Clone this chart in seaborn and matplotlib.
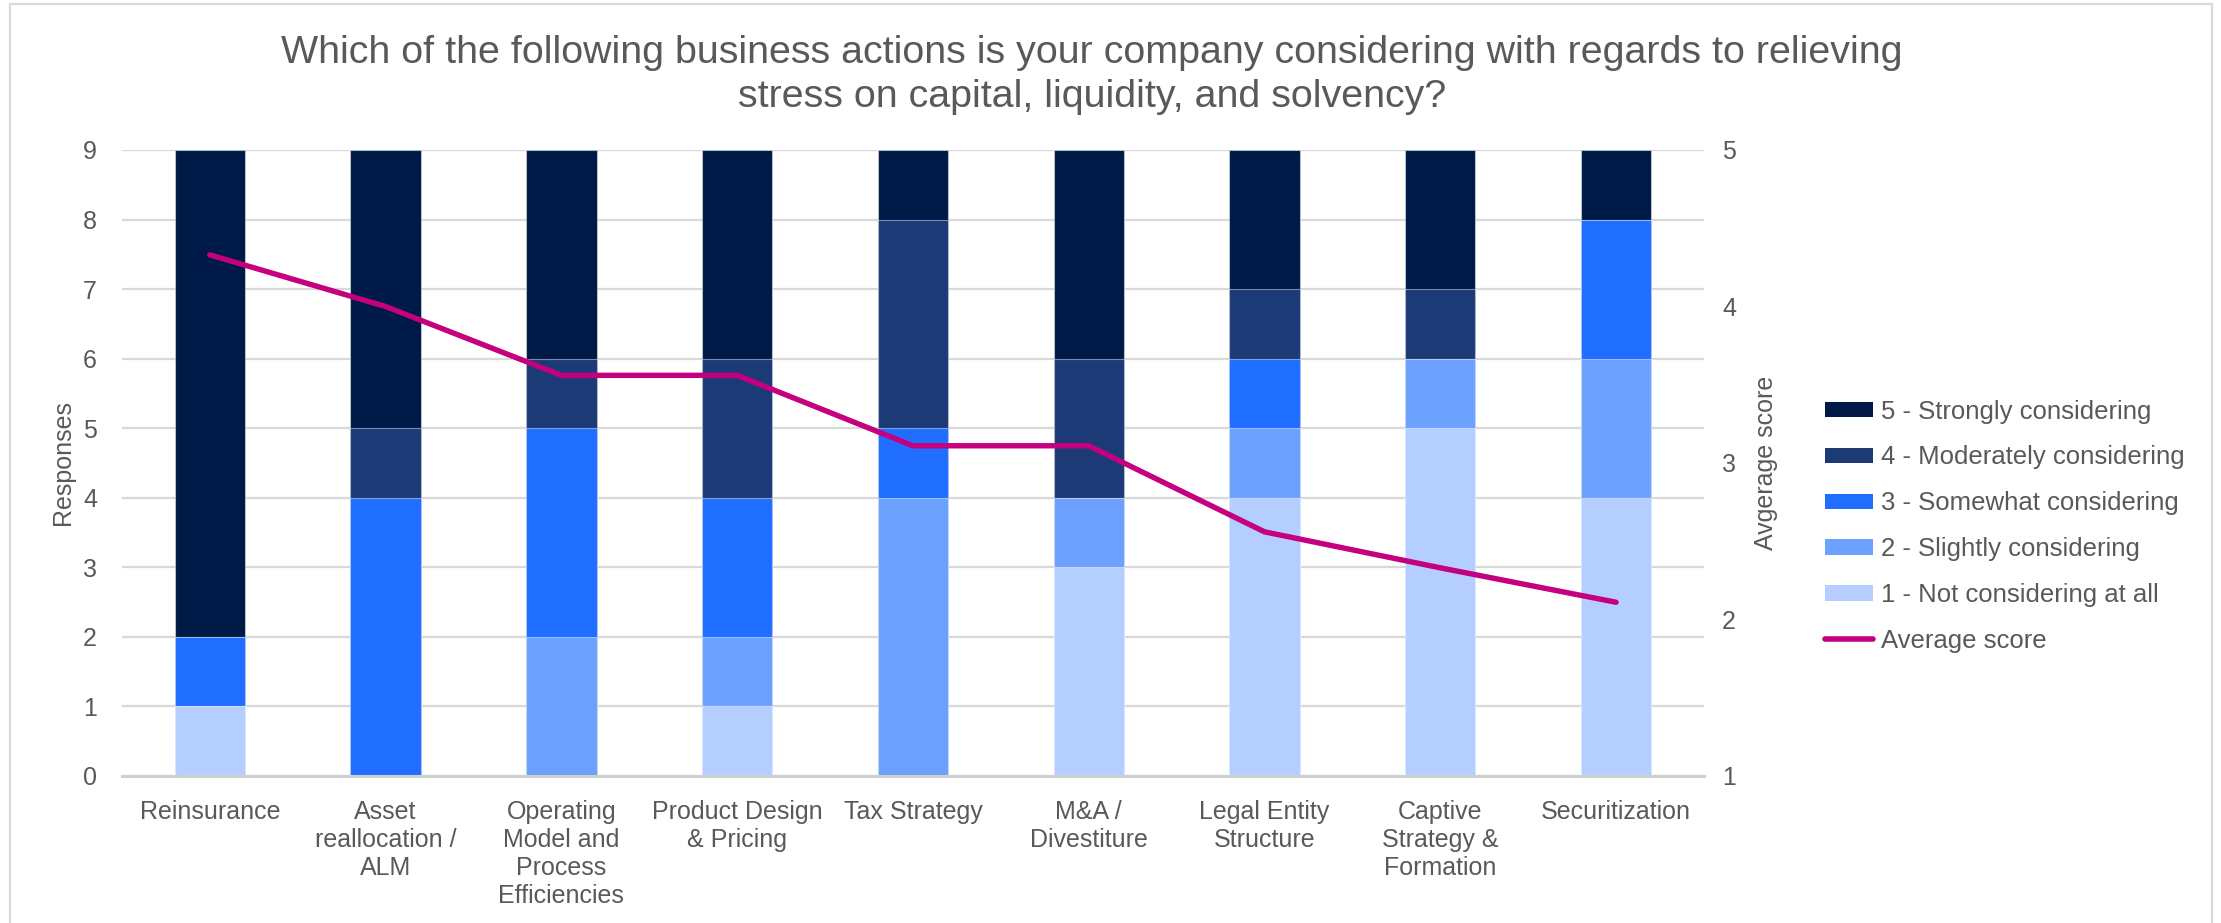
import numpy as np
import pandas as pd
import matplotlib
matplotlib.use("Agg")
import matplotlib.pyplot as plt
from matplotlib.patches import Patch, Rectangle
from matplotlib.lines import Line2D
import seaborn as sns

# ---- data ----
categories = [
    "Reinsurance",
    "Asset\nreallocation /\nALM",
    "Operating\nModel and\nProcess\nEfficiencies",
    "Product Design\n& Pricing",
    "Tax Strategy",
    "M&A /\nDivestiture",
    "Legal Entity\nStructure",
    "Captive\nStrategy &\nFormation",
    "Securitization",
]
level_names = [
    "1 - Not considering at all",
    "2 - Slightly considering",
    "3 - Somewhat considering",
    "4 - Moderately considering",
    "5 - Strongly considering",
]
not_considering = [1, 0, 0, 1, 0, 3, 4, 5, 4]
slightly = [0, 0, 2, 1, 4, 1, 1, 1, 2]
somewhat = [1, 4, 3, 2, 1, 0, 1, 0, 2]
moderately = [0, 1, 1, 2, 3, 2, 1, 1, 0]
strongly = [7, 4, 3, 3, 1, 3, 2, 2, 1]
average_score = [4.33, 4.00, 3.56, 3.56, 3.11, 3.11, 2.56, 2.33, 2.11]

level_colors = ["#B4CFFF", "#6CA1FF", "#1F6EFF", "#1C3A76", "#001A47"]
line_color = "#C4007F"
text_color = "#595959"
grid_color = "#D9D9D9"

sns.set_theme(style="white")
plt.rcParams["font.family"] = ["Liberation Sans", "DejaVu Sans"]

fig = plt.figure(figsize=(22.21, 9.23), dpi=100)
ax = fig.add_axes([0.0549, 0.1593, 0.7123, 0.6782])

# stacked bars: draw cumulative totals from the top level down
counts = np.array([not_considering, slightly, somewhat, moderately, strongly])
cum = counts.cumsum(axis=0)
for lvl in range(4, -1, -1):
    df = pd.DataFrame({"category": categories, "value": cum[lvl]})
    sns.barplot(data=df, x="category", y="value", color=level_colors[lvl],
                width=0.4, saturation=1, ax=ax, zorder=2,
                edgecolor=(1, 1, 1, 0.45), linewidth=0.8)

ax.set_ylim(0, 9)
ax.set_xlim(-0.5, len(categories) - 0.5)
ax.set_yticks(range(0, 10))
ax.yaxis.grid(True, color=grid_color, linewidth=1.6, zorder=0)
ax.set_axisbelow(True)
for s in ["top", "right", "left"]:
    ax.spines[s].set_visible(False)
ax.spines["bottom"].set_color("#D0D0D0")
ax.spines["bottom"].set_linewidth(2.2)
ax.tick_params(axis="both", length=0, labelsize=18, labelcolor=text_color)
ax.tick_params(axis="x", pad=17)
ax.tick_params(axis="y", pad=18)
for t in ax.get_xticklabels():
    t.set_linespacing(1.22)
ax.set_xlabel("")
ax.set_ylabel("Responses", fontsize=18, color=text_color, labelpad=6)

# average score on the secondary axis
ax2 = ax.twinx()
sns.lineplot(x=np.arange(len(categories)), y=average_score, ax=ax2,
             color=line_color, linewidth=3.9, solid_capstyle="round",
             solid_joinstyle="round", zorder=5)
ax2.set_ylim(1, 5)
ax2.set_yticks(range(1, 6))
ax2.grid(False)
for s in ax2.spines.values():
    s.set_visible(False)
ax2.tick_params(axis="y", length=0, labelsize=18, labelcolor=text_color, pad=13)
ax2.set_ylabel("Avgerage score", fontsize=18, color=text_color, labelpad=13)
ax2.set_xlim(-0.5, len(categories) - 0.5)

# title
fig.text(0.4917, 0.962,
         "Which of the following business actions is your company considering with regards to relieving\n"
         "stress on capital, liquidity, and solvency?",
         ha="center", va="top", fontsize=28.4, color=text_color, linespacing=1.3)

# legend
handles = [Patch(facecolor=level_colors[i], edgecolor="none") for i in range(4, -1, -1)]
labels = [level_names[i] for i in range(4, -1, -1)]
handles.append(Line2D([0], [0], color=line_color, linewidth=4, solid_capstyle="round"))
labels.append("Average score")
fig.legend(handles, labels, loc="upper left", bbox_to_anchor=(0.8215, 0.567),
           frameon=False, fontsize=18.5, labelcolor=text_color,
           handlelength=1.9, handleheight=0.55, handletextpad=0.3,
           labelspacing=0.85, borderpad=0, borderaxespad=0)

# light frame around the chart
fig.patches.append(Rectangle((10 / 2221, -0.02), (2212 - 10) / 2221, 1.02 - 4 / 923,
                             transform=fig.transFigure, fill=False,
                             edgecolor="#D9D9D9", linewidth=1.6))

fig.savefig("out.png", dpi=100, facecolor="white")
